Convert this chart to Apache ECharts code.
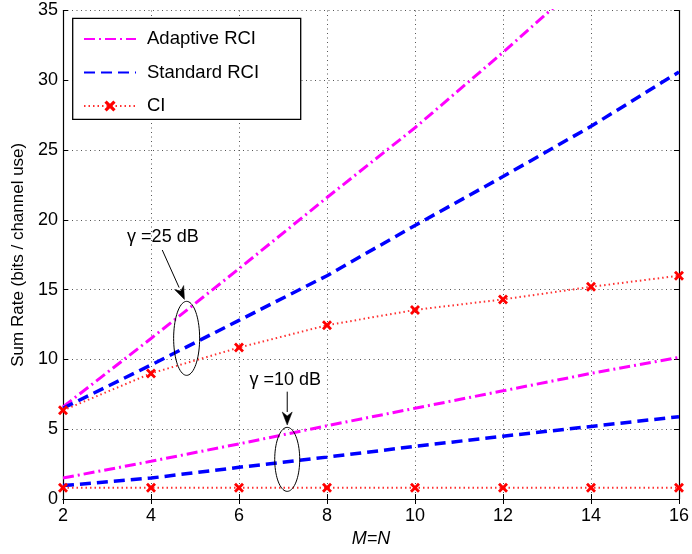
<!DOCTYPE html>
<html><head><meta charset="utf-8">
<script src="https://cdn.jsdelivr.net/npm/echarts@6/dist/echarts.min.js"></script>
<style>html,body{margin:0;padding:0;background:#fff}#c{width:692px;height:554px}</style>
</head><body><div id="c"></div>
<script>
// ---- data ----
const xValues = [2, 4, 6, 8, 10, 12, 14, 16];
const adaptive25 = [6.6, 11.5, 16.5, 21.6, 26.6, 32.0, 37.6, 43.2];
const standard25 = [6.5, 9.6, 12.8, 16.0, 19.6, 23.1, 26.7, 30.6];
const ci25 = [6.35, 9.0, 10.85, 12.45, 13.55, 14.3, 15.2, 16.0];
const adaptive10 = [1.5, 2.7, 3.95, 5.25, 6.5, 7.75, 9.0, 10.15];
const standard10 = [0.96, 1.5, 2.27, 3.0, 3.77, 4.5, 5.2, 5.9];
const ci10 = [0.8, 0.8, 0.8, 0.8, 0.8, 0.8, 0.8, 0.8];
const legendNames = ['Adaptive RCI', 'Standard RCI', 'CI'];
// annotations (data coordinates)
const annoLabels = ['\u03b3 =25 dB', '\u03b3 =10 dB'];
const annoLabelPos = [[4.27, 18.75], [7.05, 8.55]];
const arrowFrom = [[4.256, 17.84], [7.096, 7.69]];
const arrowTo = [[4.76, 14.3], [7.096, 5.30]];
const ellipseCenter = [[4.81, 11.51], [7.096, 2.84]];
const ellipseRadiusPx = [[13, 37], [12.5, 32]];

const FONT = '"Liberation Sans", Arial, Helvetica, sans-serif';
const pairs = a => xValues.map((x, i) => [x, a[i]]);
const xMark = 'path://M2,0 L5,3 L8,0 L10,2 L7,5 L10,8 L8,10 L5,7 L2,10 L0,8 L3,5 L0,2 Z';

const mag = { color: '#ff00ff', width: 3, type: [11, 4, 2, 4] };
const blu = { color: '#0000ff', width: 3.5, type: [11, 6] };
const red = { color: '#ff3030', width: 2, type: [1.5, 3] };

function lineSeries(name, arr, ls, marker) {
  return {
    name, type: 'line', data: pairs(arr), lineStyle: ls, clip: true,
    symbol: marker ? xMark : 'none', symbolSize: 10, showSymbol: !!marker,
    itemStyle: { color: marker ? '#ff0000' : ls.color },
    emphasis: { disabled: true }, z: marker ? 3 : 2
  };
}

const chart = echarts.init(document.getElementById('c'));
const gridLine = { show: true, lineStyle: { color: '#555', width: 1, type: [1, 3.5] } };
const axisCommon = {
  axisLine: { show: true, lineStyle: { color: '#000', width: 1.2 } },
  axisTick: { show: true, inside: true, length: 5, lineStyle: { color: '#000' } },
};
chart.setOption({
  animation: false,
  textStyle: { fontFamily: FONT },
  grid: { left: 63, right: 10, top: 10.5, bottom: 55, containLabel: false },
  legend: {
    data: [
      { name: legendNames[0], itemStyle: { opacity: 0 } },
      { name: legendNames[1], itemStyle: { opacity: 0 } },
      { name: legendNames[2] }
    ],
    orient: 'vertical', left: 83, top: 29.5, padding: 0,
    itemWidth: 52, itemHeight: 14, itemGap: 14.5, z: 10,
    textStyle: { fontSize: 18.5, color: '#000', fontFamily: FONT, padding: [0, 0, 0, 6] }
  },
  xAxis: [
    Object.assign({ type: 'value', min: 2, max: 16, interval: 2, position: 'bottom',
      axisLabel: { fontSize: 18, color: '#000', margin: 8, fontFamily: FONT },
      splitLine: gridLine,
      name: 'M=N', nameLocation: 'middle', nameGap: 28,
      nameTextStyle: { fontSize: 18, fontStyle: 'italic', color: '#000', fontFamily: FONT } }, axisCommon),
    Object.assign({ type: 'value', min: 2, max: 16, interval: 2, position: 'top',
      axisLabel: { show: false }, splitLine: { show: false } }, axisCommon)
  ],
  yAxis: [
    Object.assign({ type: 'value', min: 0, max: 35, interval: 5, position: 'left',
      axisLabel: { fontSize: 18, color: '#000', margin: 5, fontFamily: FONT },
      splitLine: gridLine,
      name: 'Sum Rate (bits / channel use)', nameLocation: 'middle', nameGap: 36,
      nameTextStyle: { fontSize: 17, color: '#000', fontFamily: FONT } }, axisCommon),
    Object.assign({ type: 'value', min: 0, max: 35, interval: 5, position: 'right',
      axisLabel: { show: false }, splitLine: { show: false } }, axisCommon)
  ],
  series: [
    lineSeries('Adaptive RCI', adaptive25, mag, false),
    lineSeries('Standard RCI', standard25, blu, false),
    lineSeries('CI', ci25, red, true),
    lineSeries('Adaptive RCI', adaptive10, mag, false),
    lineSeries('Standard RCI', standard10, blu, false),
    lineSeries('CI', ci10, red, true)
  ]
});

function px(p) { return chart.convertToPixel({ xAxisIndex: 0, yAxisIndex: 0 }, p); }
const g = [];
g.push({ type: 'rect', shape: { x: 72.7, y: 18.3, width: 228, height: 101 }, z: 5,
  style: { fill: '#fff', stroke: '#000', lineWidth: 1.3 } });
for (let k = 0; k < 2; k++) {
  const c = px(ellipseCenter[k]);
  const [rx, ry] = ellipseRadiusPx[k];
  const pts = [];
  for (let i = 0; i < 72; i++) {
    const t = i / 72 * Math.PI * 2;
    pts.push([c[0] + rx * Math.cos(t), c[1] + ry * Math.sin(t)]);
  }
  g.push({ type: 'polygon', shape: { points: pts }, z: 6, style: { fill: 'none', stroke: '#000', lineWidth: 1 } });
  const a = px(arrowFrom[k]), b = px(arrowTo[k]);
  const dx = b[0] - a[0], dy = b[1] - a[1], L = Math.hypot(dx, dy);
  const ux = dx / L, uy = dy / L, hl = 13, hw = 5;
  const base = [b[0] - ux * hl, b[1] - uy * hl];
  g.push({ type: 'line', shape: { x1: a[0], y1: a[1], x2: base[0], y2: base[1] }, z: 6,
    style: { stroke: '#000', lineWidth: 1 } });
  g.push({ type: 'polygon', z: 6, shape: { points: [b, [base[0] - uy * hw, base[1] + ux * hw], [b[0] - ux * hl * 0.7, b[1] - uy * hl * 0.7], [base[0] + uy * hw, base[1] - ux * hw]] },
    style: { fill: '#000', stroke: '#000', lineWidth: 0.5 } });
  const lp = px(annoLabelPos[k]);
  g.push({ type: 'text', x: lp[0], y: lp[1], z: 6,
    style: { text: annoLabels[k], font: '18px ' + FONT, fill: '#000', align: 'center', verticalAlign: 'middle' } });
}
chart.setOption({ graphic: g });
</script></body></html>
